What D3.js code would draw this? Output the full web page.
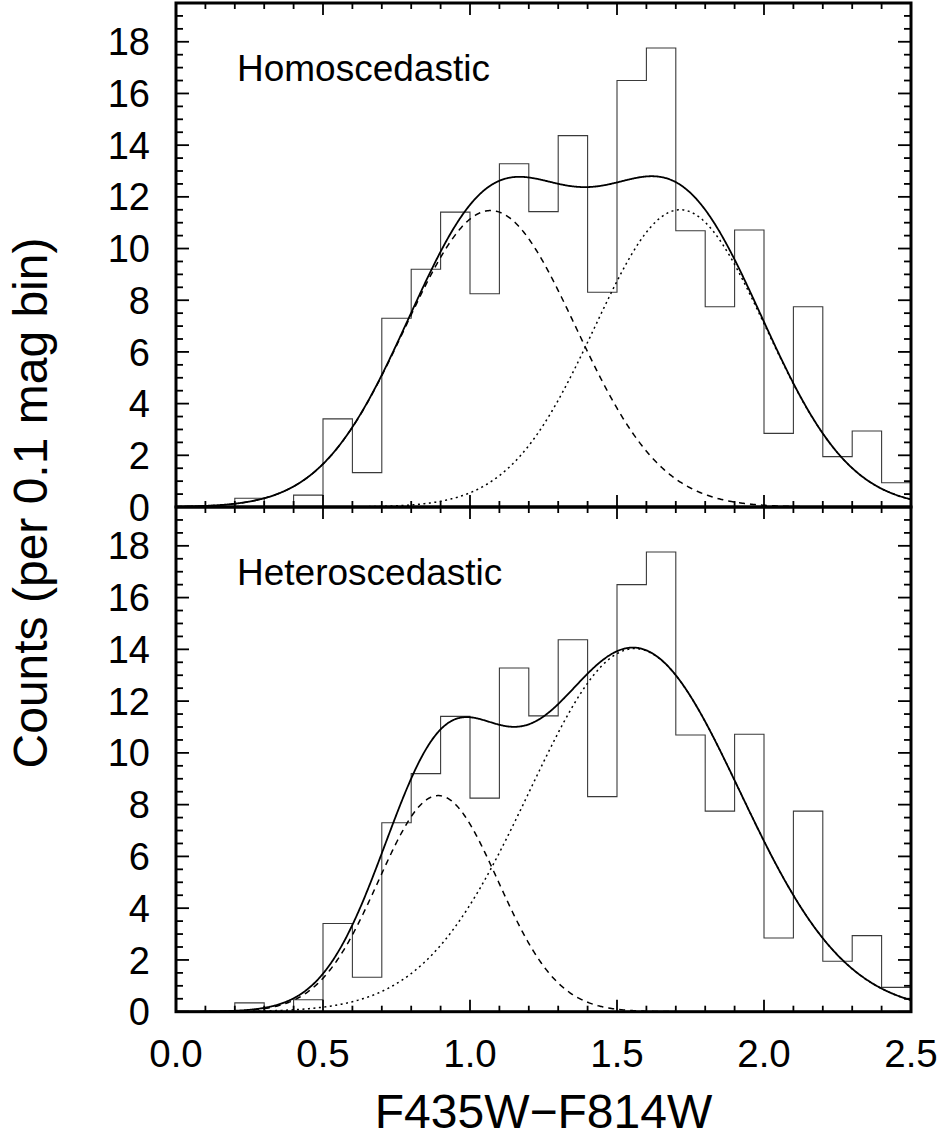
<!DOCTYPE html>
<html><head><meta charset="utf-8">
<script src="https://cdn.jsdelivr.net/npm/d3@7"></script>
<style>html,body{margin:0;padding:0;background:#fff}</style>
</head><body>
<script>
// ---- data ----
const binEdgesLeft = [0.2,0.3,0.4,0.5,0.6,0.7,0.8,0.9,1.0,1.1,1.2,1.3,1.4,1.5,1.6,1.7,1.8,1.9,2.0,2.1,2.2,2.3,2.4];
const binWidth = 0.1;
const counts = [0.34,0,0.46,3.41,1.33,7.30,9.20,11.41,8.25,13.28,11.43,14.37,8.31,16.50,17.76,10.69,7.75,10.72,2.85,7.75,1.95,2.94,0.94];
const panelNames = ["Homoscedastic","Heteroscedastic"];
// Gaussian components [first (dashed), second (dotted)] per panel
const compMeans  = [[1.07, 1.715],[0.892, 1.56]];
const compSigmas = [[0.29, 0.29],[0.203, 0.358]];
const compAmps   = [[11.47, 11.5],[8.35, 14.03]];
const xTickLabels = ["0.0","0.5","1.0","1.5","2.0","2.5"];
const yTickLabels = ["0","2","4","6","8","10","12","14","16","18"];
const xTitle = "F435W\u2212F814W";
const yTitle = "Counts (per 0.1 mag bin)";

// ---- layout ----
const W = 943, H = 1139;
const L = 176, R = 911;
const panelTop = [3, 507], panelBot = [507, 1011.7];
const FONT = "'Liberation Sans', Arial, Helvetica, sans-serif";

const svg = d3.select("body").append("svg").attr("width", W).attr("height", H)
  .style("font-family", FONT);

const x = d3.scaleLinear().domain([0, 2.5]).range([L, R]);
const gauss = (v, m, s, a) => a * Math.exp(-((v - m) * (v - m)) / (2 * s * s));
const grid = d3.range(0, 2.5 + 1e-9, 0.0025);

// step outline points from the histogram data
const stepPts = [[binEdgesLeft[0], 0]];
counts.forEach((c, i) => {
  stepPts.push([binEdgesLeft[i], c]);
  stepPts.push([binEdgesLeft[i] + binWidth, c]);
});
stepPts.push([binEdgesLeft[binEdgesLeft.length - 1] + binWidth, 0]);

panelNames.forEach((name, p) => {
  const y = d3.scaleLinear().domain([0, 19.5]).range([panelBot[p], panelTop[p]]);
  const g = svg.append("g");
  const clipId = "clip" + p;
  svg.append("clipPath").attr("id", clipId).append("rect")
    .attr("x", L).attr("y", panelTop[p]).attr("width", R - L).attr("height", panelBot[p] - panelTop[p]);
  const plot = g.append("g").attr("clip-path", `url(#${clipId})`);

  const line = d3.line().x(d => x(d[0])).y(d => y(d[1]));

  // histogram (step outline)
  plot.append("path").attr("d", line(stepPts)).attr("fill", "none")
    .attr("stroke", "#3a3a3a").attr("stroke-width", 1.1);

  const m = compMeans[p], s = compSigmas[p], a = compAmps[p];
  const c1 = grid.map(v => [v, gauss(v, m[0], s[0], a[0])]);
  const c2 = grid.map(v => [v, gauss(v, m[1], s[1], a[1])]);
  const tot = grid.map((v, i) => [v, c1[i][1] + c2[i][1]]);
  plot.append("path").attr("d", line(c1)).attr("fill", "none").attr("stroke", "#000")
    .attr("stroke-width", 1.5).attr("stroke-dasharray", "6,5");
  plot.append("path").attr("d", line(c2)).attr("fill", "none").attr("stroke", "#000")
    .attr("stroke-width", 1.5).attr("stroke-dasharray", "2,3.5");
  plot.append("path").attr("d", line(tot)).attr("fill", "none").attr("stroke", "#000")
    .attr("stroke-width", 1.8);

  // ticks
  const tk = g.append("g").attr("stroke", "#000").attr("stroke-width", 1.8);
  const xMinor = d3.range(0, 26).map(i => i / 10);
  xMinor.forEach((v, i) => {
    const len = (i % 5 === 0) ? 12 : 6;
    tk.append("line").attr("x1", x(v)).attr("x2", x(v)).attr("y1", panelTop[p]).attr("y2", panelTop[p] + len);
    tk.append("line").attr("x1", x(v)).attr("x2", x(v)).attr("y1", panelBot[p]).attr("y2", panelBot[p] - len);
  });
  const yMinor = d3.range(0, 40).map(i => i / 2).filter(v => v <= 19.5);
  yMinor.forEach((v, i) => {
    const len = (i % 4 === 0) ? 13 : 7;
    tk.append("line").attr("x1", L).attr("x2", L + len).attr("y1", y(v)).attr("y2", y(v));
    tk.append("line").attr("x1", R).attr("x2", R - len).attr("y1", y(v)).attr("y2", y(v));
  });

  // frame
  g.append("rect").attr("x", L).attr("y", panelTop[p]).attr("width", R - L)
    .attr("height", panelBot[p] - panelTop[p]).attr("fill", "none")
    .attr("stroke", "#000").attr("stroke-width", 3);

  // y tick labels
  g.selectAll("text.yl").data(yTickLabels).enter().append("text").attr("class", "yl")
    .attr("x", 150).attr("y", d => y(+d) + 13.6).attr("text-anchor", "end")
    .attr("font-size", 38).text(d => d);

  // panel label
  g.append("text").attr("x", 237).attr("y", panelTop[p] + 77.5)
    .attr("font-size", 37).text(name);
});

// x tick labels
svg.selectAll("text.xl").data(xTickLabels).enter().append("text").attr("class", "xl")
  .attr("x", d => x(+d)).attr("y", 1067).attr("text-anchor", "middle")
  .attr("font-size", 38.5).text(d => d);

// axis titles
svg.append("text").attr("x", (L + R) / 2).attr("y", 1128).attr("text-anchor", "middle")
  .attr("font-size", 48).text(xTitle);
svg.append("text").attr("transform", "translate(47,503) rotate(-90)")
  .attr("text-anchor", "middle").attr("font-size", 48).text(yTitle);
</script>
</body></html>
